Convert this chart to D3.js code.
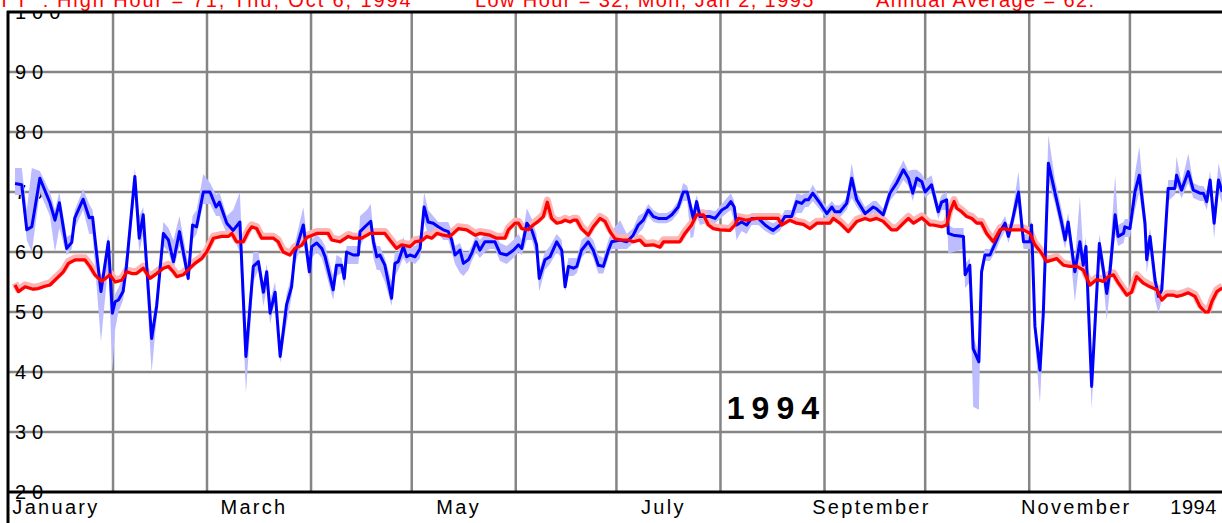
<!DOCTYPE html>
<html>
<head>
<meta charset="utf-8">
<script src="https://cdn.jsdelivr.net/npm/d3@7"></script>
<style>
  body { margin: 0; background: #fff; }
  svg { display: block; font-family: "Liberation Sans", Arial, sans-serif; }
</style>
</head>
<body>
<svg width="1222" height="523"></svg>
<script>
// day of year (0 = Jan 1), value, band low, band high
const dailyTemp = [
    [1.8, 71.4, 69.5, 74], [3.8, 71.2, 69.5, 74], [5.3, 63.7, 62, 67], [6.8, 64.2, 60, 74],
    [9.2, 72.3, 70, 73.5], [12.2, 68.2, 66, 70], [13.7, 65.3, 60, 67], [15, 68.2, 64, 70],
    [17.2, 60.6, 59.5, 62.5], [18.7, 61.6, 60.5, 63], [19.6, 65.7, 64, 67], [22.1, 68.8, 67, 70.5],
    [23.9, 65.7, 63, 68], [24.9, 65.8, 63, 67], [27.4, 53.4, 45, 55], [29.6, 61.7, 58, 63],
    [30.8, 49.8, 40, 51], [31.6, 51.7, 47, 53], [32.6, 52, 50, 54], [34, 53.4, 52, 56],
    [35, 57.6, 56, 60], [37.5, 72.6, 70, 74], [38.8, 62.3, 60, 66], [40, 66.2, 63, 67.5],
    [42.5, 45.6, 40, 47], [44, 51, 49, 53], [46, 63.1, 61, 65], [47.5, 62, 60, 64],
    [49, 58.4, 57, 62], [50.8, 63.4, 61, 66], [53.4, 55.6, 55, 58], [54.7, 64.5, 62, 66],
    [55.9, 64.2, 63, 67], [57.9, 70, 68, 73], [59.9, 70, 68, 71.5], [61.7, 67.5, 66, 69.5],
    [62.7, 68.3, 66, 70], [64.9, 64.8, 63, 66], [66.8, 63.6, 62.5, 67], [68.8, 65, 60, 70],
    [70.6, 42.6, 36.5, 45], [72.8, 57.6, 55, 60], [74.3, 58.4, 57, 60], [75.8, 53.3, 51, 55],
    [76.8, 56.7, 54, 58], [77.8, 49.8, 48, 52], [79.3, 53.3, 52, 55], [80.8, 42.6, 41.5, 44],
    [82.7, 51.2, 48, 53], [84.2, 54.2, 52.5, 56], [85.2, 59.8, 58, 61.5], [87.7, 64.5, 62, 67.5],
    [89.5, 56.7, 55.5, 59], [90.2, 60.9, 59, 62], [91.7, 61.5, 60, 63], [93.2, 60.6, 59, 62],
    [94.2, 59.2, 57, 61], [96.6, 53.7, 52, 56], [97.6, 57.8, 56, 59.5], [99.1, 57.8, 56.5, 59],
    [99.9, 55.6, 54, 57], [100.6, 60, 58, 61], [102.6, 59.5, 58, 61], [104.1, 59.5, 58, 61],
    [104.6, 63.4, 61, 66], [106.6, 64.5, 63, 67], [107.8, 65.1, 63, 68], [108.6, 61.7, 59, 63],
    [109.6, 59.2, 57, 61], [110.5, 59.5, 57, 61], [112, 57.8, 55, 59], [114, 52.3, 51, 55],
    [115, 58.1, 56, 60], [116, 58.4, 57, 60], [117.5, 60.9, 59, 62.5], [118.5, 59.2, 58, 61],
    [119.5, 59.5, 58.5, 61], [121, 59.2, 58, 61], [122.5, 60.6, 59, 62], [123.7, 67.5, 65, 70],
    [124.9, 65, 63, 67], [126.4, 64.8, 63, 66], [127.9, 64.2, 63, 65], [129.4, 63.7, 62, 65],
    [130.9, 63.4, 62, 65], [131.9, 62, 60, 63.5], [132.9, 59.5, 58, 61], [134.4, 60.3, 56.5, 61.5],
    [135.4, 58.1, 56, 60], [136.9, 58.7, 57, 60], [137.9, 59.8, 58.5, 61], [139.2, 61.7, 60, 63],
    [140.3, 60.3, 59, 62], [141.8, 61.7, 60, 63], [143.3, 61.7, 60.5, 63], [144.8, 61.7, 60.5, 63],
    [146.3, 59.8, 58.5, 61.5], [148.3, 59.5, 58, 61], [150.3, 60.3, 59, 62], [151.8, 61.2, 60, 63],
    [152.8, 60.6, 59.5, 62], [154.3, 64.8, 62, 67.3], [155.8, 63.6, 62, 65.5], [157.2, 61.2, 59, 63],
    [158, 55.6, 53.4, 57], [159.7, 58.7, 57, 60], [161.2, 59.2, 58, 61], [163.2, 61.7, 60, 63],
    [164.7, 60.3, 59, 62], [165.7, 54.2, 53.4, 56], [166.7, 57.6, 56, 59], [168.2, 57.3, 56, 59],
    [169.2, 57.6, 56.5, 59], [170.6, 60.3, 59, 62], [172.6, 61.7, 60.5, 63], [174.1, 60.3, 59, 62],
    [175.6, 57.8, 56.4, 59.5], [177.1, 57.6, 56.4, 59], [178.6, 60.3, 59, 62], [179.6, 61.7, 60.5, 63.5],
    [182.1, 62, 60.5, 65.3], [184.1, 61.7, 60.5, 63], [186, 62.8, 61.5, 64], [187.5, 64.5, 63, 66],
    [189, 65.3, 64, 66.5], [190.5, 67, 66, 68], [192, 65.9, 65, 67], [193.5, 65.6, 64.8, 66.5],
    [196, 65.6, 64.8, 66.5], [197.5, 66.2, 65.2, 67], [199.4, 67.5, 66.5, 68.5], [200.9, 70, 68.5, 71.5],
    [202.1, 70, 68.5, 71], [203.1, 67.5, 62.3, 68.5], [203.9, 65.6, 62.5, 67], [204.9, 68.4, 66, 69.5],
    [205.9, 65.9, 64.5, 67], [208.9, 65.9, 65, 67], [210.4, 65.6, 64.8, 66.8], [212.4, 67, 65.8, 68],
    [213.9, 67.5, 66.5, 69], [215.1, 68.4, 67, 69.8], [216.1, 67.5, 65, 68.5], [216.8, 64.5, 62, 65.5],
    [218.3, 65, 63.5, 66], [219.8, 64.5, 63, 65.5], [221.3, 65.6, 64.5, 66.5], [223.3, 65.6, 64.5, 66.5],
    [225.3, 64.5, 63.5, 65.5], [226.8, 63.9, 63, 65], [227.7, 63.6, 62.8, 64.8], [229.7, 64.5, 63.5, 65.5],
    [231.2, 65.9, 65, 67], [233.2, 65.9, 65, 67], [234.7, 68.4, 66.5, 69.8], [236.2, 68.1, 66.5, 69.5],
    [237.2, 68.7, 67.5, 69.8], [238.2, 68.7, 67.5, 69.8], [239.5, 69.8, 68.5, 71.2], [241.7, 68.1, 67, 69],
    [243.7, 66.4, 65.5, 67.5], [245.2, 67.5, 66.5, 68.5], [246.1, 66.7, 65.8, 67.8], [247.6, 66.7, 65.8, 67.8],
    [249.6, 68.1, 67, 69], [251.1, 72.3, 69, 74.8], [252.6, 68.7, 67.5, 70], [255.1, 66.4, 65.5, 67.5],
    [257.5, 67.5, 66.5, 68.5], [258.5, 67.2, 66, 68.5], [260.5, 66.2, 65.2, 67.2], [262.5, 69.8, 68.5, 71],
    [264.5, 71.5, 70, 73], [266.5, 73.7, 72, 75.3], [268, 72.3, 71, 73.5], [269.3, 69.8, 68.5, 73.7],
    [270.5, 72.3, 71, 73.7], [272, 71.7, 70.5, 73], [273, 70, 69, 72], [274.9, 71.2, 70, 72.8],
    [276.9, 66.7, 65.5, 68], [277.9, 68.3, 67, 69.5], [279.4, 68.7, 67, 70], [279.9, 63.1, 59.8, 64.5],
    [281.4, 62.8, 60, 64], [284.4, 62.6, 60.5, 64], [284.9, 56.2, 54, 58], [286.3, 57.8, 55, 59],
    [287.3, 43.9, 34.2, 46], [289, 41.7, 33.7, 43], [289.8, 56.7, 55, 58], [290.8, 59.5, 58.5, 60.5],
    [292.3, 59.5, 58.5, 60.5], [294.3, 62, 60.5, 63], [295.3, 63.4, 62, 64.5], [296.8, 64.8, 63.5, 66],
    [297.8, 62.6, 61.5, 64], [298.8, 64.8, 63.5, 66], [300.8, 70, 68, 73.4], [302.3, 61.7, 60.5, 63],
    [304.2, 61.7, 60.5, 63], [304.7, 64.5, 63, 65.5], [305.7, 47.6, 45, 49], [307.2, 40.3, 34.8, 42],
    [308.2, 49.8, 47, 52], [309.7, 74.8, 72, 79.5], [311.7, 69.8, 68, 72], [313.7, 64.8, 63, 67],
    [314.7, 62, 60.5, 64], [315.6, 65, 63.5, 66.5], [317.6, 56.7, 51.7, 58.5], [319.1, 61.7, 59, 69.2],
    [320.1, 57.8, 55.5, 60], [320.9, 60.9, 58.5, 62.5], [322.6, 37.6, 33.9, 40], [324.9, 61.4, 59, 63],
    [326.1, 57, 55, 59], [327.1, 53.1, 48.7, 55], [328.1, 57, 54, 60], [329.6, 66.2, 63, 72.8],
    [330.5, 62.6, 61, 64.5], [332.1, 63.1, 61.5, 65], [332.5, 64.2, 62.5, 65.5], [334, 63.9, 62.5, 65.5],
    [335.5, 70, 67, 73], [336.8, 72.8, 70, 77.6], [338.5, 64.8, 62.5, 67], [339, 58.7, 56.5, 61],
    [340, 62.6, 60, 64], [341.5, 55.3, 52, 57], [342.5, 52.6, 49.8, 54], [343.5, 53.7, 52, 55],
    [345.4, 70.6, 68.5, 72], [347.4, 70.6, 69.5, 72], [347.9, 72.8, 71, 75.9], [349.4, 70.3, 69, 71.5],
    [351.4, 73.4, 71.5, 76.4], [352.9, 70.3, 69, 71.5], [354.9, 69.8, 68.5, 71], [355.9, 69.8, 68.5, 71],
    [356.9, 68.4, 67, 70], [357.9, 72, 70, 73.5], [359.1, 64.8, 62.3, 66.5], [360.4, 72, 70, 74.8],
    [361.5, 70, 68, 72]
];

// day of year, running value
const normalTemp = [
    [1.8, 54.5], [2.8, 53.4], [4.8, 54.2], [7.2, 53.8], [8.7, 53.9], [10.7, 54.3], [12.2, 54.5],
    [14.2, 55.6], [16.2, 56.7], [17.7, 58.1], [19.7, 58.7], [22.6, 58.7], [24.1, 57.6], [25.6, 56.2],
    [27.6, 55.1], [30.1, 56.2], [31.6, 55], [33.6, 55.3], [35.1, 56.7], [36.6, 56.4], [38, 56.4],
    [40, 57.3], [42, 55.6], [44, 56.4], [46, 57.3], [47.5, 57.6], [49, 56.7], [50, 55.9],
    [51.9, 56.2], [53.9, 57.3], [55.4, 58.1], [57.4, 58.9], [58.9, 60], [60.9, 62.3], [63.4, 62.6],
    [65.4, 62.6], [66.4, 63.1], [67.8, 61.7], [69.8, 61.7], [71.3, 63.4], [72.3, 64.2], [73.8, 63.9],
    [75.3, 62.3], [78.8, 62.3], [80.2, 61.7], [81.7, 60], [83.7, 59.5], [85.2, 60.6], [87.2, 61.1],
    [88.7, 62.4], [91.7, 63.1], [95.1, 63.1], [96.2, 62], [98.6, 61.7], [101.1, 62.6], [102.6, 62.3],
    [105.1, 62.3], [107.6, 63.1], [112, 63.1], [113.5, 62], [115.5, 60.6], [117, 61.2], [119.5, 60.9],
    [121, 61.7], [123, 61.9], [124.5, 62.6], [126, 62.3], [127.5, 63.1], [129.4, 62.8], [131.4, 62.6],
    [133.9, 63.9], [136.4, 63.7], [138.9, 62.8], [140.3, 63.1], [143.3, 62.8], [145.3, 62.3],
    [147.8, 62.3], [148.8, 63.7], [150.8, 64.8], [151.8, 64.8], [152.8, 63.9], [154.7, 63.7],
    [156.2, 64.5], [157.7, 65.1], [159.2, 65.9], [160.4, 68.3], [161.7, 65.6], [163.2, 64.8],
    [164.7, 65], [165.7, 65.3], [167.2, 65], [168.2, 65.3], [169.2, 65.3], [170.6, 63.9], [172.6, 62.8],
    [174.1, 64.2], [176.1, 65.6], [177.6, 65.1], [179.1, 63.4], [180.6, 62.2], [182.6, 62], [184.6, 62],
    [186, 61.7], [188, 62], [189.5, 61.1], [192, 61.2], [194, 60.8], [195, 61.7], [199.9, 61.7],
    [201.4, 63.1], [203.4, 64.5], [204.9, 66.2], [206.9, 66.2], [208.4, 64.5], [209.9, 63.9],
    [211.9, 63.7], [214.8, 63.6], [216.3, 64.5], [217.3, 65.6], [219.8, 65.3], [222.8, 65.6],
    [225.8, 65.6], [229.2, 65.6], [230.2, 64.5], [232.7, 65.3], [234.7, 64.8], [236.7, 64.6],
    [238.7, 63.9], [240.7, 64.8], [244.6, 64.8], [245.6, 65.6], [247.6, 64.8], [250.1, 63.4],
    [252.6, 65.1], [255.1, 65.6], [256.6, 65.3], [258.5, 65.6], [260.5, 65.1], [263, 63.7],
    [264.5, 63.7], [266.5, 64.8], [268, 65.6], [269.5, 64.8], [272, 65.7], [274.4, 64.5], [275.4, 64.5],
    [277.9, 64.2], [279.4, 64.5], [280.4, 66.7], [281.6, 68.4], [282.4, 67.3], [283.9, 66.7],
    [285.4, 65.9], [286.9, 65.6], [288.4, 64.8], [289.8, 64.8], [291.3, 63.1], [293.3, 61.7],
    [295.3, 63.7], [296.3, 63.9], [298.3, 63.7], [302.3, 63.7], [304.2, 63.1], [305.7, 61.2],
    [307.7, 59.8], [309.2, 58.4], [312.2, 58.9], [314.2, 57.8], [316.2, 57.6], [318.2, 57.6],
    [320.1, 57], [322.1, 54.5], [324.1, 55.4], [326.1, 55.1], [327.6, 55.9], [329.1, 56.2],
    [330.6, 54.8], [333.1, 52.8], [334.5, 53.3], [336, 55.9], [338, 54.8], [340, 54.2], [342, 53.7],
    [343.5, 52], [345, 52.8], [347, 52.8], [348, 52.6], [349.5, 52.8], [351.4, 53.2], [353.4, 52.6],
    [354.9, 50.9], [356.4, 50], [357.4, 50], [358.4, 51.7], [359.9, 53.4], [361.5, 54]
];

const yTicks = [20, 30, 40, 50, 60, 70, 80, 90, 100];
const monthLabels = ["January", "March", "May", "July", "September", "November"];
const yearLabel = "1994";
const headerPrefix = "TT :";
const headerParts = [
    "High Hour = 71, Thu, Oct 6, 1994",
    "Low Hour = 32, Mon, Jan 2, 1995",
    "Annual Average = 62."
];

const svg = d3.select("svg");
const width = +svg.attr("width");
const height = +svg.attr("height");

const yearStart = new Date(1994, 0, 1);
const yearEnd = new Date(1995, 0, 1);
const toDate = d => new Date(yearStart.getTime() + d * 864e5);

const x = d3.scaleTime().domain([yearStart, yearEnd]).range([9, 9 + 365 * 3.356]);
const y = d3.scaleLinear().domain([20, 100]).range([492, 12]);

// grid
const grid = svg.append("g").attr("stroke", "#858585").attr("stroke-width", 2.5);
grid.selectAll("line.h")
    .data(yTicks.filter(t => t > 20 && t < 100))
    .join("line")
    .attr("x1", x.range()[0]).attr("x2", width)
    .attr("y1", d => y(d)).attr("y2", d => y(d));
grid.selectAll("line.v")
    .data(d3.timeMonth.range(new Date(1994, 1, 1), yearEnd))
    .join("line")
    .attr("x1", d => x(d)).attr("x2", d => x(d))
    .attr("y1", y(100)).attr("y2", y(20));

// y labels
svg.append("g")
    .selectAll("text")
    .data(yTicks)
    .join("text")
    .attr("x", 15)
    .attr("y", d => y(d))
    .attr("dy", "0.36em")
    .attr("font-size", 20)
    .attr("letter-spacing", 6)
    .attr("fill", "#000")
    .text(d => d);

// blue band + line
svg.append("path")
    .datum(dailyTemp)
    .attr("fill", "#bcbcff")
    .attr("d", d3.area()
        .x(d => x(toDate(d[0])))
        .y0(d => y(d[2]))
        .y1(d => y(d[3])));

// red halo
svg.append("path")
    .datum(normalTemp)
    .attr("fill", "none")
    .attr("stroke", "#ffb4b4")
    .attr("stroke-width", 7)
    .attr("stroke-linejoin", "round")
    .attr("transform", "translate(0,-2)")
    .attr("d", d3.line().x(d => x(toDate(d[0]))).y(d => y(d[1])));

svg.append("path")
    .datum(dailyTemp)
    .attr("fill", "none")
    .attr("stroke", "#0000ff")
    .attr("stroke-width", 3)
    .attr("stroke-linejoin", "round")
    .attr("d", d3.line().x(d => x(toDate(d[0]))).y(d => y(d[1])));

svg.append("path")
    .datum(normalTemp)
    .attr("fill", "none")
    .attr("stroke", "#ff0000")
    .attr("stroke-width", 3.2)
    .attr("stroke-linejoin", "round")
    .attr("d", d3.line().x(d => x(toDate(d[0]))).y(d => y(d[1])));

// hide what sits above the frame, then header text
svg.append("rect").attr("x", 0).attr("y", 0).attr("width", width).attr("height", y(100)).attr("fill", "#fff");

const header = svg.append("g").attr("font-size", 20).attr("fill", "#ff0000");
header.append("text")
    .attr("x", -2).attr("y", 7)
    .attr("letter-spacing", 5)
    .text(headerPrefix);
header.selectAll("text.part")
    .data(headerParts)
    .join("text")
    .attr("x", (d, i) => [57, 475, 876][i])
    .attr("y", 7)
    .attr("letter-spacing", (d, i) => i === 0 ? 1.9 : 1.4)
    .text(d => d);

// frame
const frame = svg.append("g").attr("stroke", "#000").attr("stroke-width", 3);
frame.append("line").attr("x1", 8).attr("x2", 8).attr("y1", y(100) - 1).attr("y2", height);
frame.append("line").attr("x1", 7).attr("x2", width).attr("y1", y(100)).attr("y2", y(100));
frame.append("line").attr("x1", 7).attr("x2", width).attr("y1", y(20)).attr("y2", y(20));

// month labels, centred in each odd month
svg.append("g")
    .selectAll("text")
    .data(monthLabels)
    .join("text")
    .attr("x", (d, i) => x(new Date(1994, i * 2, 15)))
    .attr("y", 514)
    .attr("text-anchor", "middle")
    .attr("font-size", 20)
    .attr("letter-spacing", 2.3)
    .text(d => d);

svg.append("text")
    .attr("x", x(new Date(1994, 11, 13)))
    .attr("y", 514)
    .attr("font-size", 20)
    .attr("letter-spacing", 0.6)
    .text(yearLabel);

// big year in plot
svg.append("text")
    .attr("x", x(new Date(1994, 7, 2)) + 3)
    .attr("y", y(32.2))
    .attr("font-size", 32)
    .attr("font-weight", "bold")
    .attr("letter-spacing", 7)
    .text(yearLabel);
</script>
</body>
</html>
